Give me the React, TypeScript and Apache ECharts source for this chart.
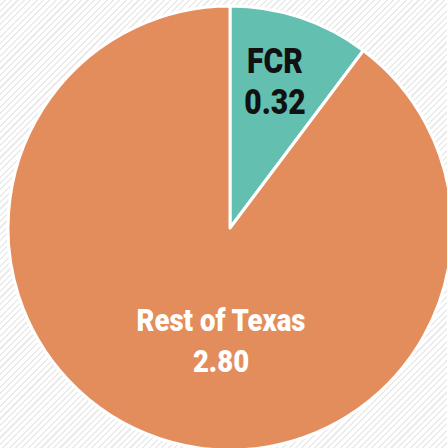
import React, { useEffect, useRef } from "react";
import * as echarts from "echarts";

const categories = ["FCR", "Rest of Texas"];
const values = [0.32, 2.8];
const colors = ["#63BFB0", "#E38D5D"];
const labelColors = ["#111111", "#ffffff"];
const fontSizes = [35, 32];
const labelPos = [
  [275, 82],
  [221, 340],
];

export default function App() {
  const ref = useRef<HTMLDivElement>(null);
  useEffect(() => {
    document.body.style.margin = "0";
    const chart = echarts.init(ref.current!, null, { renderer: "svg" });
    chart.setOption({
      animation: false,
      graphic: categories.map((c, i) => ({
        type: "text",
        x: labelPos[i][0],
        y: labelPos[i][1],
        scaleX: 0.86,
        z: 100,
        style: {
          text: `${c}\n${values[i].toFixed(2)}`,
          fill: labelColors[i],
          fontFamily: "Roboto, sans-serif",
          fontWeight: 900,
          fontSize: fontSizes[i],
          lineHeight: 41,
          align: "center",
          verticalAlign: "middle",
        },
      })),
      series: [
        {
          type: "pie",
          center: [230, 228],
          radius: [0, 222],
          startAngle: 90,
          clockwise: true,
          itemStyle: { borderColor: "#ffffff", borderWidth: 3 },
          label: { show: false },
          labelLine: { show: false },
          emphasis: { disabled: true },
          data: categories.map((c, i) => ({
            name: c,
            value: values[i],
            itemStyle: { color: colors[i] },
          })),
        },
      ],
    });
    return () => chart.dispose();
  }, []);
  return (
    <div
      ref={ref}
      style={{
        width: 447,
        height: 448,
        background:
          "repeating-linear-gradient(135deg, #ffffff 0px, #ffffff 3px, #ebebeb 3px, #ebebeb 4.5px)",
      }}
    />
  );
}
